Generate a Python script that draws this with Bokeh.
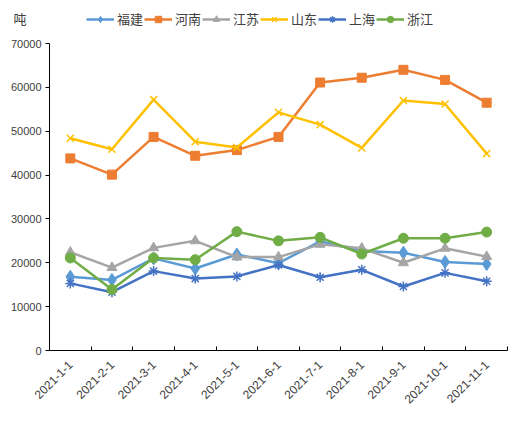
from bokeh.plotting import figure
from bokeh.models import FixedTicker, Legend, LegendItem, Range1d, LinearAxis
from bokeh.embed import file_html
from bokeh.resources import INLINE
from math import pi

categories = ["2021-1-1", "2021-2-1", "2021-3-1", "2021-4-1", "2021-5-1", "2021-6-1",
              "2021-7-1", "2021-8-1", "2021-9-1", "2021-10-1", "2021-11-1"]
fujian   = [16800, 16100, 21000, 18700, 21900, 19900, 24900, 22700, 22300, 20200, 19700]
henan    = [43800, 40100, 48700, 44400, 45700, 48700, 61100, 62200, 64000, 61700, 56500]
jiangsu  = [22400, 18900, 23400, 25000, 21300, 21300, 24200, 23300, 20000, 23300, 21400]
shandong = [48400, 45900, 57200, 47600, 46300, 54300, 51500, 46200, 57000, 56200, 44900]
shanghai = [15300, 13300, 18100, 16400, 16900, 19500, 16700, 18400, 14600, 17700, 15800]
zhejiang = [21100, 13900, 21100, 20700, 27100, 25000, 25800, 22000, 25600, 25600, 27000]
series_names = ["福建", "河南", "江苏", "山东", "上海", "浙江"]
y_ticks = [0, 10000, 20000, 30000, 40000, 50000, 60000, 70000]
y_max = 70000
unit_label = "吨"

series = [fujian, henan, jiangsu, shandong, shanghai, zhejiang]
colors = ["#5B9BD5", "#ED7D31", "#A5A5A5", "#FFC000", "#4472C4", "#70AD47"]
markers = ["diamond", "square", "triangle", "x", "asterisk", "circle"]
msizes = [13, 9, 10, 10, 10, 10]

n = len(categories)
xs = [i + 0.5 for i in range(n)]

# the frame reaches above the value axis so that the legend (drawn in the frame) is visible
frame_h = 342
axis_h = 307
y_top = y_max * frame_h / axis_h
unit_y = y_max + (y_top - y_max) * 25.0 / 35.0

p = figure(frame_width=458, frame_height=frame_h, output_backend="svg", toolbar_location=None,
           x_range=Range1d(0, n), y_range=Range1d(0, y_top),
           min_border_left=49, min_border_right=13, min_border_top=8, min_border_bottom=95)
p.outline_line_color = None
p.xgrid.visible = False
p.ygrid.visible = False
p.background_fill_color = "white"
p.border_fill_color = "white"

font = "Liberation Sans"
label_color = "#404040"

# x axis
p.xaxis.ticker = FixedTicker(ticks=xs, minor_ticks=list(range(n + 1)))
p.xaxis.major_label_overrides = {x: c for x, c in zip(xs, categories)}
p.xaxis.major_label_orientation = pi / 4
p.xaxis.major_tick_in = 0
p.xaxis.major_tick_out = 0
p.xaxis.minor_tick_in = 4
p.xaxis.minor_tick_out = 0
p.xaxis.minor_tick_line_color = "black"
p.xaxis.axis_line_color = "black"
p.xaxis.major_label_text_font = font
p.xaxis.major_label_text_font_size = "12px"
p.xaxis.major_label_text_color = label_color
p.xaxis.major_label_standoff = 12

# y axis
p.yaxis.ticker = FixedTicker(ticks=y_ticks)
p.yaxis.bounds = (0, y_max)
p.yaxis.major_label_overrides = {t: str(t) for t in y_ticks}
p.yaxis.major_tick_in = 0
p.yaxis.major_tick_out = 4
p.yaxis.minor_tick_line_color = None
p.yaxis.axis_line_color = "black"
p.yaxis.major_tick_line_color = "black"
p.yaxis.major_label_text_font = font
p.yaxis.major_label_text_font_size = "11px"
p.yaxis.major_label_text_color = label_color
p.yaxis.major_label_standoff = 4

# unit label "吨" above the value axis
unit_axis = LinearAxis(ticker=FixedTicker(ticks=[unit_y]),
                       major_label_overrides={unit_y: unit_label},
                       axis_line_color=None, major_tick_line_color=None,
                       minor_tick_line_color=None, major_tick_in=0, major_tick_out=0,
                       major_label_standoff=-19,
                       major_label_text_font="Noto Sans CJK SC",
                       major_label_text_font_size="13px",
                       major_label_text_color="#404040")
p.add_layout(unit_axis, "left")

items = []
for name, vals, col, mk, ms in zip(series_names, series, colors, markers, msizes):
    r1 = p.line(xs, vals, line_color=col, line_width=2.5)
    if mk in ("x", "asterisk"):
        r2 = p.scatter(xs, vals, marker=mk, size=ms, line_color=col, line_width=1.5)
    else:
        r2 = p.scatter(xs, vals, marker=mk, size=ms, fill_color=col, line_color=col)
    items.append(LegendItem(label=name, renderers=[r1, r2]))

legend = Legend(items=items, orientation="horizontal", location=(37, 322),
                glyph_width=28, glyph_height=16, label_height=16, label_standoff=3,
                spacing=1, padding=0, margin=0, border_line_color=None,
                background_fill_alpha=0,
                label_text_font="Noto Sans CJK SC", label_text_font_size="13px",
                label_text_color="#404040")
p.add_layout(legend, "center")

open("out.html", "w").write(file_html(p, INLINE))
